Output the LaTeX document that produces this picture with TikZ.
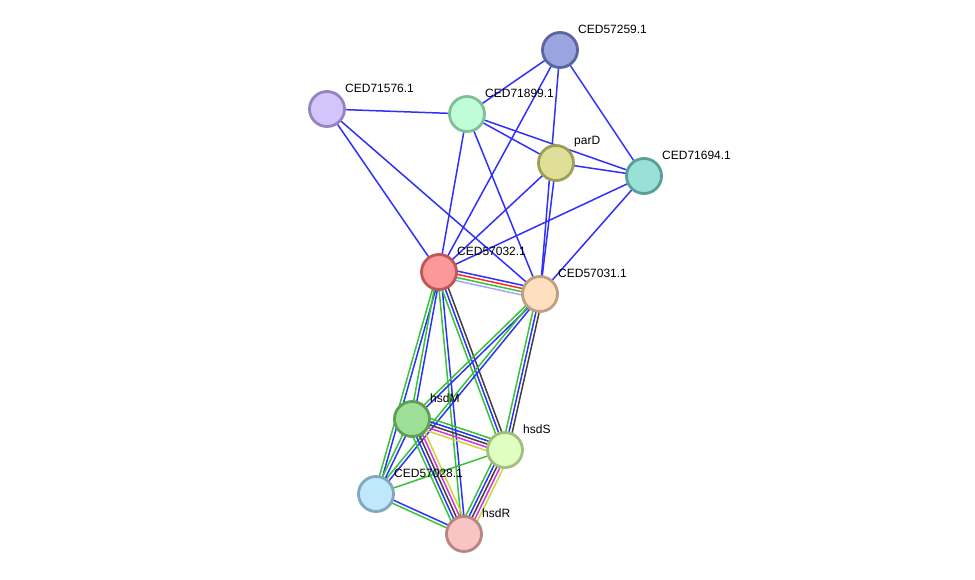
\documentclass[tikz,border=0pt]{standalone}
\usepackage{fontspec}
\setmainfont{Liberation Sans}
\usetikzlibrary{calc}
\pgfdeclarelayer{bg}
\pgfsetlayers{bg,main}
\definecolor{cblue}{RGB}{48,48,250}
\definecolor{cgreen}{RGB}{52,196,52}
\definecolor{cred}{RGB}{250,40,40}
\definecolor{cdark}{RGB}{64,64,64}
\definecolor{cmag}{RGB}{225,45,225}
\definecolor{cyel}{RGB}{200,218,50}
\definecolor{clav}{RGB}{165,165,250}
\definecolor{dA}{RGB}{91,101,160}\definecolor{fA}{RGB}{154,164,224}
\definecolor{dB}{RGB}{150,131,191}\definecolor{fB}{RGB}{212,196,252}
\definecolor{dC}{RGB}{128,191,152}\definecolor{fC}{RGB}{192,252,216}
\definecolor{dD}{RGB}{159,159,87}\definecolor{fD}{RGB}{223,223,151}
\definecolor{dE}{RGB}{88,160,152}\definecolor{fE}{RGB}{152,224,216}
\definecolor{dF}{RGB}{190,87,87}\definecolor{fF}{RGB}{254,151,151}
\definecolor{dG}{RGB}{191,159,128}\definecolor{fG}{RGB}{254,223,192}
\definecolor{dH}{RGB}{94,159,87}\definecolor{fH}{RGB}{158,223,151}
\definecolor{dI}{RGB}{160,191,128}\definecolor{fI}{RGB}{224,254,192}
\definecolor{dJ}{RGB}{128,168,191}\definecolor{fJ}{RGB}{192,232,252}
\definecolor{dK}{RGB}{184,132,132}\definecolor{fK}{RGB}{248,196,196}
\tikzset{
  prot/.style={circle,draw=d#1,fill=f#1,line width=2.8pt,minimum size=35pt,inner sep=0pt},
  lbl/.style={anchor=west,inner sep=0pt,font=\fontsize{12}{14}\selectfont,text=black},
  edge/.style={line width=1.5pt}
}
\newcommand\bundle[4]{%
  \foreach \c [count=\i] in {#4}{%
    \pgfmathsetmacro\off{((#3+1)/2-\i)*3.2}%
    \draw[edge,\c] ($(#1.center)!\off pt!90:(#2.center)$) -- ($(#2.center)!\off pt!-90:(#1.center)$);
  }}
\begin{document}
\begin{tikzpicture}[x=1pt,y=-1pt]
\useasboundingbox (0,0) rectangle (975,580);
% nodes
\node[prot=A] (n57259) at (560,50) {};
\node[prot=B] (n71576) at (327,109) {};
\node[prot=C] (n71899) at (467,114) {};
\node[prot=D] (nparD) at (556,163) {};
\node[prot=E] (n71694) at (644,176) {};
\node[prot=F] (n57032) at (439,272) {};
\node[prot=G] (n57031) at (540,294) {};
\node[prot=H] (nhsdM) at (412,419) {};
\node[prot=I] (nhsdS) at (505,450) {};
\node[prot=J] (n57028) at (376,494) {};
\node[prot=K] (nhsdR) at (464,534) {};
% labels
\node[lbl] (l57259) at ($(n57259)+(18,-21)$) {CED57259.1};
\node[lbl] (l71576) at ($(n71576)+(18,-21)$) {CED71576.1};
\node[lbl] (l71899) at ($(n71899)+(18,-21)$) {CED71899.1};
\node[lbl] (lparD) at ($(nparD)+(18,-21)$) {parD};
\node[lbl] (l71694) at ($(n71694)+(18,-21)$) {CED71694.1};
\node[lbl] (l57032) at ($(n57032)+(18,-21)$) {CED57032.1};
\node[lbl] (l57031) at ($(n57031)+(18,-21)$) {CED57031.1};
\node[lbl] (lhsdM) at ($(nhsdM)+(18,-21)$) {hsdM};
\node[lbl] (lhsdS) at ($(nhsdS)+(18,-21)$) {hsdS};
\node[lbl] (l57028) at ($(n57028)+(18,-21)$) {CED57028.1};
\node[lbl] (lhsdR) at ($(nhsdR)+(18,-21)$) {hsdR};
% edges
\begin{pgfonlayer}{bg}
\foreach \a/\b in {n57259/n71899,n57259/n71694,n57259/n57032,n57259/n57031,
  n71576/n71899,n71576/n57032,n71576/n57031,
  n71899/nparD,n71899/n71694,n71899/n57032,n71899/n57031,
  nparD/n71694,nparD/n57032,nparD/n57031,
  n71694/n57032,n71694/n57031}
  \draw[edge,cblue] (\a.center) -- (\b.center);
\bundle{n57032}{n57031}{4}{cblue,cred,cgreen,clav}
\bundle{n57032}{n57028}{2}{cblue,cgreen}
\bundle{n57032}{nhsdM}{2}{cblue,cgreen}
\bundle{n57032}{nhsdR}{2}{cblue,cgreen}
\bundle{n57032}{nhsdS}{3}{cdark,cblue,cgreen}
\bundle{n57031}{nhsdS}{3}{cdark,cblue,cgreen}
\bundle{n57031}{nhsdM}{2}{cblue,cgreen}
\bundle{n57031}{n57028}{2}{cblue,cgreen}
\bundle{nhsdM}{nhsdS}{5}{cgreen,cblue,cdark,cmag,cyel}
\bundle{nhsdM}{nhsdR}{5}{cyel,cmag,cdark,cblue,cgreen}
\bundle{nhsdS}{nhsdR}{5}{cyel,cmag,cdark,cblue,cgreen}
\bundle{nhsdM}{n57028}{2}{cblue,cgreen}
\bundle{n57028}{nhsdR}{2}{cblue,cgreen}
\draw[edge,cgreen] (n57028.center) -- (nhsdS.center);
\end{pgfonlayer}
\end{tikzpicture}
\end{document}
